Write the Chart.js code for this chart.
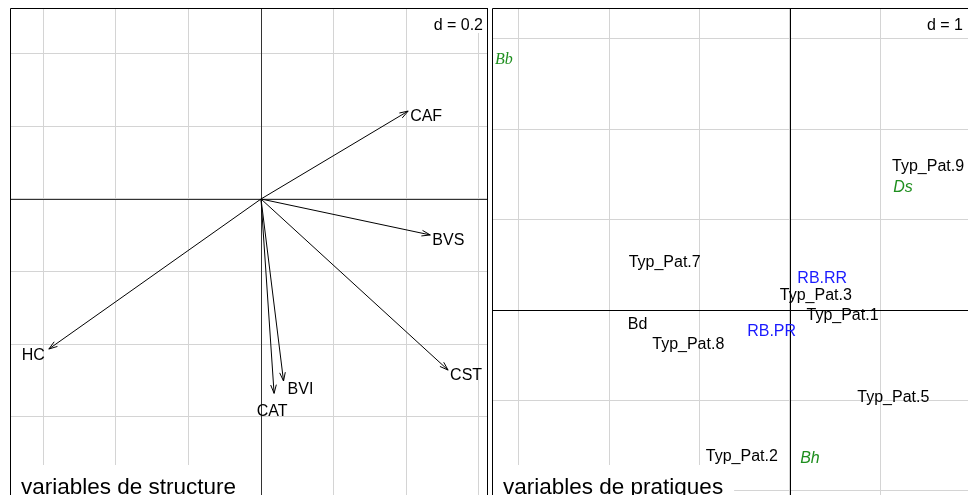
<!DOCTYPE html>
<html>
<head>
<meta charset="utf-8">
<script src="https://cdn.jsdelivr.net/npm/chart.js@4"></script>
<style>
  html, body { margin: 0; padding: 0; width: 968px; height: 495px; overflow: hidden; background: #fff; }
  canvas { position: absolute; }
  #structure-chart { left: 10px; top: 8px; }
  #pratiques-chart { left: 492px; top: 8px; }
</style>
</head>
<body>
<canvas id="structure-chart" width="478" height="497"></canvas>
<canvas id="pratiques-chart" width="476" height="497"></canvas>
<script>
// left panel: structure variables (arrow tips)
const structLabels = ["CAF", "BVS", "CST", "BVI", "CAT", "HC"];
const structX = [0.405, 0.466, 0.515, 0.062, 0.036, -0.584];
const structY = [0.242, -0.099, -0.471, -0.501, -0.535, -0.413];
const structGrid = [-0.6, -0.4, -0.2, 0, 0.2, 0.4, 0.6, 0.8];

// right panel: practice variables
const patLabels = ["Typ_Pat.9", "Typ_Pat.7", "Typ_Pat.3", "Typ_Pat.1", "Typ_Pat.8", "Typ_Pat.5", "Typ_Pat.2", "Bd"];
const patX = [1.527, -1.386, 0.286, 0.581, -1.125, 1.143, -0.533, -1.685];
const patY = [1.604, 0.542, 0.171, -0.045, -0.373, -0.949, -1.602, -0.147];
const rbLabels = ["RB.RR", "RB.PR"];
const rbX = [0.357, -0.203];
const rbY = [0.367, -0.221];
const soilLabels = ["Bb", "Ds", "Bh"];
const soilX = [-3.164, 1.25, 0.221];
const soilY = [2.788, 1.366, -1.632];
const pratGrid = [-3, -2, -1, 0, 1, 2, 3];

const SANS = "'Liberation Sans', Arial, Helvetica, sans-serif";
const SERIF = "'Liberation Serif', 'Times New Roman', serif";
const GRID = "#d4d4d4";

// label placement that does not follow the quadrant rule
const arrowLabelOverride = {
  BVI: { align: "left", dx: 4, dy: 7 },
};

function toPoints(xs, ys) {
  return xs.map((x, i) => ({ x: x, y: ys[i] }));
}

function panelScale(min, max, grid) {
  return {
    type: "linear",
    min: min,
    max: max,
    afterBuildTicks: (s) => {
      s.ticks = grid.filter((v) => v > min && v < max).map((v) => ({ value: v }));
    },
    ticks: { display: false },
    border: { display: false },
    grid: { drawTicks: false, color: GRID, lineWidth: 1 },
  };
}

// text with its cap height centred on y
function capText(ctx, txt, x, y, size) {
  ctx.fillText(txt, x, y + 0.358 * size);
}

// zero lines, "d = " box, title box and frame
function makePanelPlugin(cfg) {
  return {
    id: "panel",
    beforeDatasetsDraw(chart) {
      const ctx = chart.ctx;
      const a = chart.chartArea;
      const px = Math.round(chart.scales.x.getPixelForValue(0)) + 0.5;
      const py = Math.round(chart.scales.y.getPixelForValue(0)) + 0.5;
      ctx.save();
      ctx.strokeStyle = cfg.axisColor;
      ctx.lineWidth = 1;
      ctx.beginPath();
      ctx.moveTo(px, a.top);
      ctx.lineTo(px, a.bottom);
      ctx.moveTo(a.left, py);
      ctx.lineTo(a.right, py);
      ctx.stroke();
      ctx.restore();
    },
    afterDraw(chart) {
      const ctx = chart.ctx;
      const a = chart.chartArea;
      ctx.save();
      ctx.textBaseline = "alphabetic";

      ctx.font = "16px " + SANS;
      const dw = ctx.measureText(cfg.scaleText).width;
      ctx.fillStyle = "#fff";
      ctx.fillRect(a.right - dw - 9, a.top, dw + 9, 25);
      ctx.fillStyle = "#000";
      ctx.textAlign = "right";
      ctx.fillText(cfg.scaleText, a.right - 5, a.top + 22);

      ctx.font = "22.5px " + SANS;
      const tw = ctx.measureText(cfg.title).width;
      ctx.fillStyle = "#fff";
      ctx.fillRect(a.left, 457, tw + 22, 60);
      ctx.fillStyle = "#000";
      ctx.textAlign = "left";
      ctx.fillText(cfg.title, a.left + 11, 486);

      ctx.strokeStyle = "#000";
      ctx.lineWidth = 1;
      ctx.beginPath();
      ctx.moveTo(a.left + 0.5, a.bottom + 10);
      ctx.lineTo(a.left + 0.5, a.top + 0.5);
      ctx.lineTo(a.right + 10, a.top + 0.5);
      if (cfg.rightEdge) {
        ctx.moveTo(a.right - 0.5, a.top);
        ctx.lineTo(a.right - 0.5, a.bottom + 10);
      }
      ctx.stroke();
      ctx.restore();
    },
  };
}

// arrows from the origin with their labels
const arrowPlugin = {
  id: "arrows",
  afterDatasetsDraw(chart) {
    const ctx = chart.ctx;
    const ox = chart.scales.x.getPixelForValue(0);
    const oy = chart.scales.y.getPixelForValue(0);
    const meta = chart.getDatasetMeta(0);
    const labels = chart.data.datasets[0].names;
    ctx.save();
    ctx.strokeStyle = "#000";
    ctx.fillStyle = "#000";
    ctx.lineWidth = 1;
    ctx.font = "16px " + SANS;
    meta.data.forEach((pt, i) => {
      const tx = pt.x, ty = pt.y;
      ctx.beginPath();
      ctx.moveTo(ox, oy);
      ctx.lineTo(tx, ty);
      ctx.stroke();
      const ang = Math.atan2(ty - oy, tx - ox);
      const len = 9, spread = 0.32;
      ctx.beginPath();
      ctx.moveTo(tx - len * Math.cos(ang - spread), ty - len * Math.sin(ang - spread));
      ctx.lineTo(tx, ty);
      ctx.lineTo(tx - len * Math.cos(ang + spread), ty - len * Math.sin(ang + spread));
      ctx.stroke();

      const dx = tx - ox, dy = oy - ty;
      let place = arrowLabelOverride[labels[i]];
      if (!place) {
        if (dx > Math.abs(dy)) place = { align: "left", dx: 2, dy: 4 };
        else if (-dx >= Math.abs(dy)) place = { align: "right", dx: -4, dy: 5 };
        else if (dy < 0) place = { align: "center", dx: -2, dy: 17 };
        else place = { align: "center", dx: 0, dy: -12 };
      }
      ctx.textAlign = place.align;
      capText(ctx, labels[i], tx + place.dx, ty + place.dy, 16);
    });
    ctx.restore();
  },
};

// centred text labels for the practice panel
const labelPlugin = {
  id: "labels",
  afterDatasetsDraw(chart) {
    const ctx = chart.ctx;
    ctx.save();
    ctx.textAlign = "center";
    chart.data.datasets.forEach((ds, di) => {
      const meta = chart.getDatasetMeta(di);
      ctx.fillStyle = ds.labelColor;
      meta.data.forEach((pt, i) => {
        ctx.font = ds.labelFonts[i];
        capText(ctx, ds.names[i], pt.x, pt.y, 16);
      });
    });
    ctx.restore();
  },
};

new Chart(document.getElementById("structure-chart"), {
  type: "scatter",
  data: {
    datasets: [
      {
        names: structLabels,
        data: toPoints(structX, structY),
        pointRadius: 0,
      },
    ],
  },
  options: {
    responsive: false,
    animation: false,
    layout: { padding: 0 },
    scales: {
      x: panelScale(-0.6909, 0.6248, structGrid),
      y: panelScale(-0.8423, 0.5257, structGrid),
    },
    plugins: {
      legend: { display: false },
      tooltip: { enabled: false },
    },
  },
  plugins: [
    makePanelPlugin({ axisColor: "#333", scaleText: "d = 0.2", title: "variables de structure", rightEdge: true }),
    arrowPlugin,
  ],
});

new Chart(document.getElementById("pratiques-chart"), {
  type: "scatter",
  data: {
    datasets: [
      {
        names: patLabels,
        data: toPoints(patX, patY),
        pointRadius: 0,
        labelFonts: patLabels.map(() => "16px " + SANS),
        labelColor: "#000",
      },
      {
        names: rbLabels,
        data: toPoints(rbX, rbY),
        pointRadius: 0,
        labelFonts: rbLabels.map(() => "16px " + SANS),
        labelColor: "#1a1aff",
      },
      {
        names: soilLabels,
        data: toPoints(soilX, soilY),
        pointRadius: 0,
        labelFonts: ["italic 16px " + SERIF, "italic 16px " + SANS, "italic 16px " + SANS],
        labelColor: "#1f8f1f",
      },
    ],
  },
  options: {
    responsive: false,
    animation: false,
    layout: { padding: 0 },
    scales: {
      x: panelScale(-3.296, 1.969, pratGrid),
      y: panelScale(-2.157, 3.341, pratGrid),
    },
    plugins: {
      legend: { display: false },
      tooltip: { enabled: false },
    },
  },
  plugins: [
    makePanelPlugin({ axisColor: "#000", scaleText: "d = 1", title: "variables de pratiques", rightEdge: false }),
    labelPlugin,
  ],
});
</script>
</body>
</html>
